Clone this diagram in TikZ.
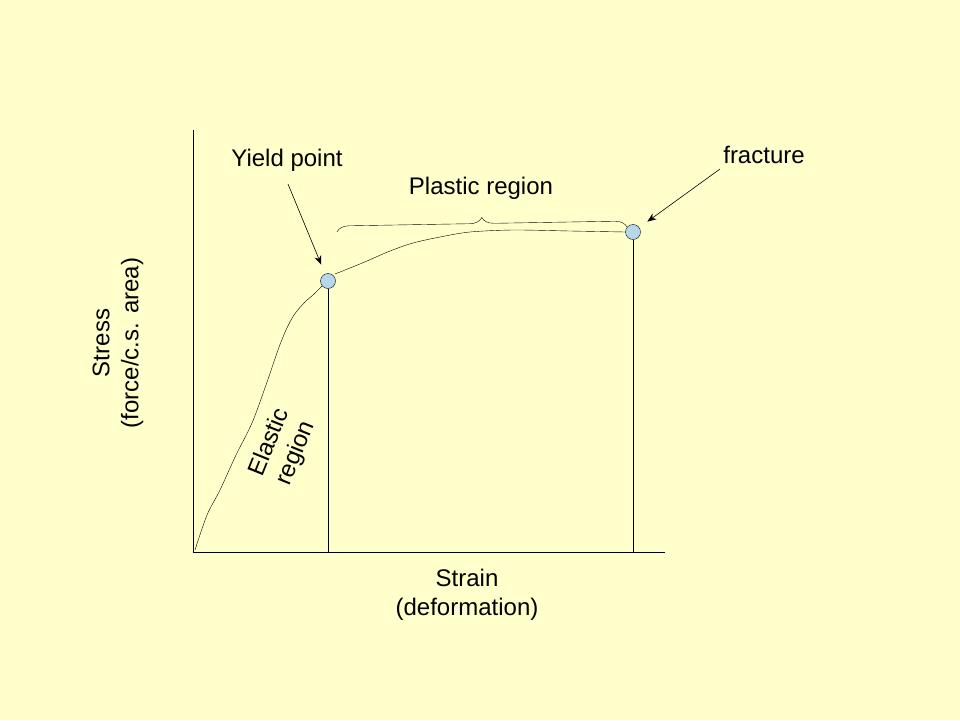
\documentclass[tikz,border=0pt]{standalone}
\usepackage{fontspec}
\setmainfont{Liberation Sans}
\usetikzlibrary{decorations.pathreplacing, arrows.meta}
\definecolor{slide}{RGB}{255,255,204}
\definecolor{dotblue}{RGB}{182,216,232}

\begin{document}
\begin{tikzpicture}[x=1pt, y=-1pt, >={Stealth[length=9pt, width=7pt]}, semithick]
\tikzstyle{every node}=[font=\fontsize{24}{29}\selectfont, text=black]
\tikzstyle{dot}=[circle, fill=dotblue, draw=black, thin, minimum size=15pt, inner sep=0pt]
\tikzstyle{label}=[align=center, inner sep=0pt]
\fill[slide] (0,0) rectangle (960,720);
\useasboundingbox (0,0) rectangle (960,720);
% axes
\coordinate (O)     at (193,552);
\coordinate (ytop)  at (193,130);
\coordinate (xend)  at (665,552);
\draw (ytop) -- (O) -- (xend);
% points on the curve
\node[dot] (yield)    at (328,281) {};
\node[dot] (fracture) at (633,232) {};
\coordinate (yfoot) at (328,552);
\coordinate (ffoot) at (633,552);
\draw (yield) -- (yfoot);
\draw (fracture) -- (ffoot);
% stress-strain curve
\draw[thin] plot[smooth] coordinates {(195,550) (207,515) (220,490) (236,455) (252,423)
  (266,385) (278,350) (286,330) (294,315) (304,303) (314,294) (322,286)};
\draw[thin] plot[smooth] coordinates {(335,274) (350,268) (367,261) (390,251) (413,243)
  (440,237) (470,232) (513,230) (570,231) (625,232)};
% brace over plastic part
\coordinate (bl) at (337,232);
\coordinate (br) at (627,227);
\draw[thin, decorate, decoration={brace, amplitude=12pt}] (bl) -- (br);
% labels
\node[label] (yieldtxt)   at (287,160) {Yield point};
\node[label] (plastictxt) at (481,188) {Plastic region};
\node[label] (fractxt)    at (764,155) {fracture};
\node[label, rotate=90] (stress) at (118,343) {Stress\\(force/c.s. area)};
\node[label] (strain) at (467,595) {Strain\\(deformation)};
\node[label, rotate=68] (elastic) at (283,448) {Elastic\\region};
% pointers
\coordinate (yarr) at (288,184);
\coordinate (farr) at (720,169);
\draw[->, shorten >=10pt] (yarr) -- (yield);
\draw[->, shorten >=10pt] (farr) -- (fracture);
\end{tikzpicture}
\end{document}
